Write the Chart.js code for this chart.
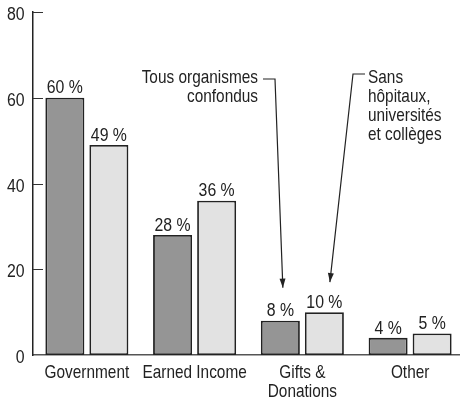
<!DOCTYPE html>
<html>
<head>
<meta charset="utf-8">
<script src="https://cdn.jsdelivr.net/npm/chart.js@4.4.1/dist/chart.umd.min.js"></script>
<style>
  html, body { margin: 0; padding: 0; background: #ffffff; overflow: hidden; }
  #wrap { width: 460px; height: 400px; overflow: hidden; }
  canvas { display: block; }
</style>
</head>
<body>
<div id="wrap"><canvas id="c" width="464" height="400"></canvas></div>
<script>
// ---- Data ----
const categories = ['Government', 'Earned Income', ['Gifts &', 'Donations'], 'Other'];
const allOrganizations = [60, 28, 8, 4];
const withoutHospitals = [49, 36, 10, 5];
const yTickValues = [0, 20, 40, 60, 80];
const seriesNames = ['Tous organismes confondus', 'Sans hôpitaux, universités et collèges'];
const noteAllLines = ['Tous organismes', 'confondus'];
const noteSansLines = ['Sans', 'hôpitaux,', 'universités', 'et collèges'];

const FONT = '"Liberation Sans", Arial, Helvetica, sans-serif';
const FS = 19, SQ = 0.81;        // words
const NFS = 18, NSQ = 0.88;      // numbers
const INK = '#222222';

// condensed text helper
function text(ctx, str, x, y, align, size, squeeze) {
  ctx.save();
  ctx.font = size + 'px ' + FONT;
  ctx.translate(x, y);
  ctx.scale(squeeze, 1);
  ctx.textAlign = align || 'left';
  ctx.textBaseline = 'alphabetic';
  ctx.fillText(str, 0, 0);
  ctx.restore();
}

function arrow(ctx, pts) {
  ctx.beginPath();
  ctx.moveTo(pts[0][0], pts[0][1]);
  for (let i = 1; i < pts.length; i++) ctx.lineTo(pts[i][0], pts[i][1]);
  ctx.stroke();
  const [x1, y1] = pts[pts.length - 2];
  const [x2, y2] = pts[pts.length - 1];
  const a = Math.atan2(y2 - y1, x2 - x1);
  const L = 9, W = 3;
  ctx.beginPath();
  ctx.moveTo(x2, y2);
  ctx.lineTo(x2 - L * Math.cos(a) + W * Math.sin(a), y2 - L * Math.sin(a) - W * Math.cos(a));
  ctx.lineTo(x2 - L * Math.cos(a) - W * Math.sin(a), y2 - L * Math.sin(a) + W * Math.cos(a));
  ctx.closePath();
  ctx.fill();
}

const decor = {
  id: 'decor',
  beforeDatasetsDraw(chart) {
    const ctx = chart.ctx;
    const y = chart.scales.y;
    const x = chart.scales.x;
    const left = chart.chartArea.left;
    const bottom = chart.chartArea.bottom;
    ctx.save();
    // inside tick marks on y axis
    ctx.strokeStyle = '#333';
    ctx.lineWidth = 1;
    yTickValues.forEach(v => {
      if (v === 0) return;
      const py = Math.round(y.getPixelForValue(v)) + 0.5;
      ctx.beginPath();
      ctx.moveTo(left, py);
      ctx.lineTo(left + 10, py);
      ctx.stroke();
    });
    // y tick labels
    ctx.fillStyle = INK;
    yTickValues.forEach(v => {
      text(ctx, String(v), left - 8.5, y.getPixelForValue(v) + 8, 'right', NFS, NSQ);
    });
    // x category labels
    chart.data.labels.forEach((lab, i) => {
      const lines = Array.isArray(lab) ? lab : [lab];
      const px = x.getPixelForTick(i);
      lines.forEach((ln, k) => text(ctx, ln, px, bottom + 22.5 + k * 19.5, 'center', FS, SQ));
    });
    ctx.restore();
  },
  afterDatasetsDraw(chart) {
    const ctx = chart.ctx;
    ctx.save();
    ctx.fillStyle = INK;
    chart.data.datasets.forEach((ds, di) => {
      const meta = chart.getDatasetMeta(di);
      meta.data.forEach((bar, i) => {
        text(ctx, ds.data[i] + ' %', bar.x, bar.y - 4.3, 'center', NFS, NSQ);
      });
    });

    // Annotations
    const giftsDark = chart.getDatasetMeta(0).data[2];
    const giftsLight = chart.getDatasetMeta(1).data[2];
    noteAllLines.forEach((t, i) => text(ctx, t, 258, 82.5 + i * 19, 'right', FS, SQ));
    noteSansLines.forEach((t, i) => text(ctx, t, 368, 82.5 + i * 19.3, 'left', FS, SQ));

    ctx.strokeStyle = INK;
    ctx.lineWidth = 1.2;
    arrow(ctx, [[263, 79], [275, 79], [giftsDark.x + 2.5, giftsDark.y - 33]]);
    arrow(ctx, [[365, 74], [353, 74], [giftsLight.x + 5.5, giftsLight.y - 30]]);
    ctx.restore();
  }
};

new Chart(document.getElementById('c'), {
  type: 'bar',
  data: {
    labels: categories,
    datasets: [
      {
        label: seriesNames[0],
        data: allOrganizations,
        backgroundColor: '#959595',
        borderColor: INK,
        borderWidth: 1.8,
        borderSkipped: false,
        barPercentage: 0.886,
        categoryPercentage: 0.817
      },
      {
        label: seriesNames[1],
        data: withoutHospitals,
        backgroundColor: '#e2e2e2',
        borderColor: INK,
        borderWidth: 1.8,
        borderSkipped: false,
        barPercentage: 0.886,
        categoryPercentage: 0.817
      }
    ]
  },
  options: {
    responsive: false,
    animation: false,
    devicePixelRatio: 1,
    layout: { padding: { top: 12, right: 0, bottom: 0, left: 0 } },
    plugins: { legend: { display: false }, tooltip: { enabled: false } },
    scales: {
      x: {
        grid: { display: false, drawTicks: false },
        border: { display: true, color: '#555', width: 1.5 },
        ticks: { display: false, autoSkip: false },
        afterFit(s) { s.height = 45; s.paddingLeft = 0; s.paddingRight = 0; }
      },
      y: {
        min: 0,
        max: 80,
        grid: { display: false, drawTicks: false },
        border: { display: true, color: INK, width: 1.5 },
        ticks: { display: false, stepSize: 20 },
        afterFit(s) { s.width = 33; s.paddingTop = 0; s.paddingBottom = 0; }
      }
    }
  },
  plugins: [decor]
});
</script>
</body>
</html>
